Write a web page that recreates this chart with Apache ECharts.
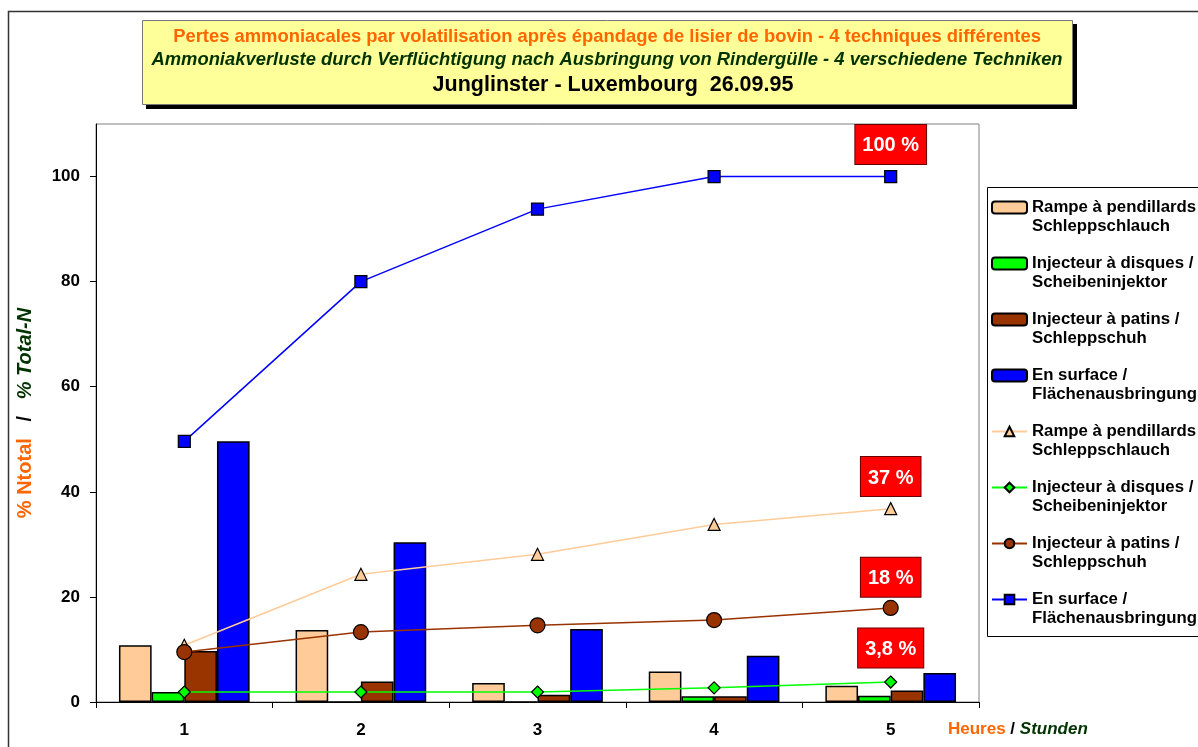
<!DOCTYPE html>
<html>
<head>
<meta charset="utf-8">
<script src="https://cdn.jsdelivr.net/npm/echarts@6/dist/echarts.min.js"></script>
<style>
html,body{margin:0;padding:0;background:#fff;}
#chart{width:1198px;height:747px;}
</style>
</head>
<body>
<div id="chart"></div>
<script>
// ---- data ----
const hours = ['1', '2', '3', '4', '5'];
const yTicks = [0, 20, 40, 60, 80, 100];

const seriesNames = [
  'Rampe à pendillards\nSchleppschlauch',
  'Injecteur à disques /\nScheibeninjektor',
  'Injecteur à patins /\nSchleppschuh',
  'En surface /\nFlächenausbringung'
];

// bars: losses per hour interval (% Ntotal)
const barRampe   = [10.8, 13.7, 3.6, 5.8, 3.1];
const barDisques = [1.9, 0, 0, 1.1, 1.2];
const barPatins  = [9.7, 3.9, 1.4, 1.1, 2.2];
const barSurface = [49.6, 30.4, 13.9, 8.8, 5.5];

// lines: cumulative losses (% Ntotal)
const lineRampe   = [10.8, 24.3, 28.1, 33.8, 36.8];
const lineDisques = [1.9, 1.9, 1.9, 2.7, 3.8];
const linePatins  = [9.5, 13.3, 14.6, 15.6, 17.9];
const lineSurface = [49.6, 80.0, 93.8, 100, 100];

const endLabels = ['37 %', '3,8 %', '18 %', '100 %'];

const title1 = 'Pertes ammoniacales par volatilisation après épandage de lisier de bovin - 4 techniques différentes';
const title2 = 'Ammoniakverluste durch Verflüchtigung nach Ausbringung von Rindergülle - 4 verschiedene Techniken';
const title3 = 'Junglinster - Luxembourg  26.09.95';

// ---- styles ----
const FONT = '"Liberation Sans", Arial, sans-serif';
const colors = ['#FFCC99', '#00FF00', '#993300', '#0000FF'];
const symbols = ['triangle', 'diamond', 'circle', 'rect'];
const symbolSizes = [12, 12, 15, 12];
const labelDist = [6, 8, 3, 6];

const barData = [barRampe, barDisques, barPatins, barSurface];
const lineData = [lineRampe, lineDisques, linePatins, lineSurface];

const series = [];
barData.forEach((d, i) => {
  series.push({
    name: seriesNames[i],
    type: 'bar',
    data: d,
    barGap: '0%',
    barCategoryGap: '26%',
    itemStyle: { color: colors[i], borderColor: '#000', borderWidth: 1.5 }
  });
});
lineData.forEach((d, i) => {
  const data = d.map((v, k) => {
    if (k === d.length - 1) {
      return {
        value: v,
        label: {
          show: true,
          position: 'top',
          distance: labelDist[i],
          formatter: endLabels[i],
          color: '#fff',
          fontFamily: FONT,
          fontWeight: 'bold',
          fontSize: 20,
          backgroundColor: '#FF0000',
          borderColor: '#660000',
          borderWidth: 1,
          padding: [11, 7, 8, 7]
        }
      };
    }
    return v;
  });
  series.push({
    name: seriesNames[i] + ' ',
    type: 'line',
    data: data,
    symbol: symbols[i],
    symbolSize: symbolSizes[i],
    showAllSymbol: true,
    lineStyle: { color: colors[i], width: 1.5 },
    itemStyle: { color: colors[i], borderColor: '#000', borderWidth: 1.2 },
    z: 3
  });
});

const chart = echarts.init(document.getElementById('chart'), null, { renderer: 'canvas' });
chart.setOption({
  animation: false,
  backgroundColor: '#fff',
  textStyle: { fontFamily: FONT },
  grid: {
    left: 96, right: 219, top: 124, bottom: 45,
    show: true, borderColor: '#808080', borderWidth: 1, backgroundColor: '#fff'
  },
  xAxis: {
    type: 'category',
    data: hours,
    boundaryGap: true,
    axisLine: { lineStyle: { color: '#000', width: 1 } },
    axisTick: { show: true, length: 6, lineStyle: { color: '#000' } },
    axisLabel: { color: '#000', fontWeight: 'bold', fontSize: 17, margin: 20, fontFamily: FONT },
    splitLine: { show: false }
  },
  yAxis: {
    type: 'value',
    min: 0, max: 110, interval: 20,
    axisLine: { show: true, lineStyle: { color: '#000', width: 1 } },
    axisTick: { show: true, length: 6, lineStyle: { color: '#000' }, customValues: yTicks },
    axisLabel: { color: '#000', fontWeight: 'bold', fontSize: 17, margin: 16, fontFamily: FONT, customValues: yTicks },
    splitLine: { show: false },
    name: '{a|% Ntotal}{s|   /   }{b|% Total-N}',
    nameLocation: 'middle',
    nameRotate: 90,
    nameGap: 61,
    nameTextStyle: {
      rich: {
        a: { color: '#FF6600', fontWeight: 'bold', fontSize: 20, fontFamily: FONT },
        s: { color: '#000', fontWeight: 'bold', fontSize: 20, fontFamily: FONT },
        b: { color: '#003300', fontWeight: 'bold', fontStyle: 'italic', fontSize: 20, fontFamily: FONT }
      }
    }
  },
  legend: {
    orient: 'vertical',
    left: 991,
    top: 179,
    padding: 0,
    itemGap: -1,
    itemWidth: 35,
    itemHeight: 12,
    formatter: name => '\n' + name.trim(),
    textStyle: {
      color: '#000', fontWeight: 'bold', fontSize: 16.8, lineHeight: 19,
      fontFamily: FONT
    }
  },
  series: series,
  graphic: [
    { type: 'rect', shape: { x: 8.5, y: 11.5, width: 1300, height: 900 }, style: { fill: 'none', stroke: '#333', lineWidth: 1.5 }, z: -10, silent: true },
    { type: 'rect', shape: { x: 987.5, y: 187.5, width: 300, height: 449 }, style: { fill: '#fff', stroke: '#000', lineWidth: 1 }, z: -5, silent: true },
    { type: 'rect', shape: { x: 146, y: 24, width: 931, height: 85 }, style: { fill: '#000' }, z: 10, silent: true },
    { type: 'rect', shape: { x: 142.5, y: 20.5, width: 930, height: 84 }, style: { fill: '#FFFF99', stroke: '#777', lineWidth: 1 }, z: 11, silent: true },
    { type: 'text', x: 607, y: 37, z: 12, style: { text: title1, fill: '#FF6600', font: 'bold 18.4px ' + FONT, align: 'center', verticalAlign: 'middle' } },
    { type: 'text', x: 607, y: 60, z: 12, style: { text: title2, fill: '#003300', font: 'italic bold 18.4px ' + FONT, align: 'center', verticalAlign: 'middle' } },
    { type: 'text', x: 613, y: 85, z: 12, style: { text: title3, fill: '#000', font: 'bold 21.5px ' + FONT, align: 'center', verticalAlign: 'middle' } },
    { type: 'text', x: 948, y: 729, z: 12, style: {
        text: '{a|Heures}{s| / }{b|Stunden}', align: 'left', verticalAlign: 'middle',
        rich: {
          a: { fill: '#FF6600', font: 'bold 17px ' + FONT },
          s: { fill: '#000', font: 'bold 17px ' + FONT },
          b: { fill: '#003300', font: 'italic bold 17px ' + FONT }
        }
      } }
  ]
});
</script>
</body>
</html>
